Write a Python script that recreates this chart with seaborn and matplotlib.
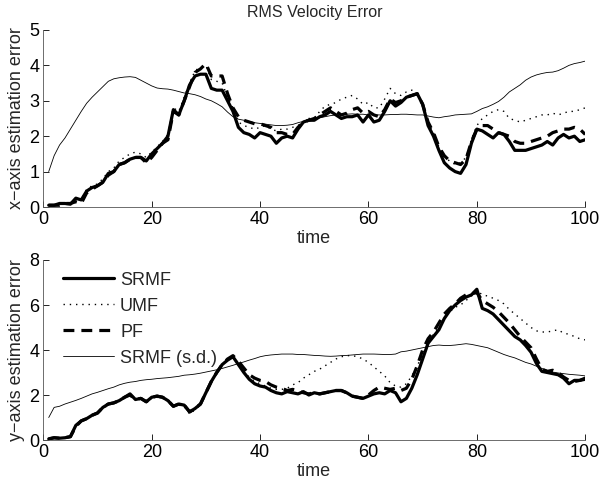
import pandas as pd
import matplotlib
matplotlib.use("Agg")
import matplotlib.pyplot as plt
import seaborn as sns

# time steps
time = list(range(1, 101))

# x-axis RMS velocity error
x_srmf = [0.05, 0.05, 0.1, 0.1, 0.08, 0.25, 0.2, 0.45, 0.55, 0.6,
          0.7, 0.95, 1.0, 1.2, 1.25, 1.35, 1.4, 1.4, 1.3, 1.5,
          1.65, 1.8, 2.0, 2.75, 2.6, 3.0, 3.45, 3.7, 3.75, 3.75,
          3.35, 3.3, 3.3, 3.0, 2.7, 2.25, 2.1, 2.05, 1.95, 2.1,
          2.05, 2.0, 1.8, 1.95, 2.0, 1.95, 2.2, 2.4, 2.45, 2.45,
          2.55, 2.6, 2.7, 2.6, 2.5, 2.55, 2.55, 2.6, 2.4, 2.6,
          2.4, 2.45, 2.7, 3.0, 2.85, 2.95, 3.1, 3.15, 3.2, 2.9,
          2.3, 2.0, 1.6, 1.25, 1.1, 1.0, 0.95, 1.2, 1.8, 2.2,
          2.15, 2.05, 1.95, 2.1, 2.05, 1.85, 1.6, 1.6, 1.6, 1.65,
          1.7, 1.75, 1.85, 1.75, 1.95, 2.05, 1.95, 2.0, 1.85, 1.9]
x_umf = [0.05, 0.05, 0.1, 0.1, 0.1, 0.2, 0.2, 0.5, 0.6, 0.65,
         0.8, 1.0, 1.1, 1.3, 1.4, 1.5, 1.55, 1.5, 1.4, 1.55,
         1.7, 1.85, 2.05, 2.8, 2.7, 3.1, 3.5, 3.85, 3.95, 4.0,
         3.6, 3.55, 3.5, 3.1, 2.8, 2.4, 2.3, 2.25, 2.2, 2.25,
         2.3, 2.2, 2.15, 2.2, 2.2, 2.25, 2.3, 2.4, 2.5, 2.5,
         2.7, 2.85, 2.9, 2.95, 3.05, 3.1, 3.15, 3.05, 2.9, 2.95,
         2.8, 2.8, 3.05, 3.35, 3.2, 3.15, 3.25, 3.3, 3.2, 2.9,
         2.4, 2.1, 1.7, 1.4, 1.3, 1.2, 1.25, 1.4, 1.9, 2.3,
         2.5, 2.6, 2.7, 2.75, 2.7, 2.5, 2.45, 2.4, 2.45, 2.5,
         2.55, 2.6, 2.6, 2.65, 2.6, 2.65, 2.7, 2.7, 2.75, 2.8]
x_pf = [0.05, 0.05, 0.05, 0.1, 0.1, 0.15, 0.1, 0.4, 0.5, 0.6,
        0.7, 0.9, 1.0, 1.2, 1.25, 1.35, 1.4, 1.4, 1.25, 1.4,
        1.6, 1.8, 1.9, 2.7, 2.6, 3.0, 3.4, 3.8, 3.9, 4.05,
        3.7, 3.7, 3.7, 3.2, 2.8, 2.55, 2.45, 2.4, 2.35, 2.35,
        2.3, 2.25, 2.1, 2.1, 2.05, 2.05, 2.25, 2.4, 2.45, 2.5,
        2.6, 2.7, 2.8, 2.7, 2.6, 2.65, 2.75, 2.8, 2.65, 2.7,
        2.6, 2.55, 2.75, 3.05, 2.95, 3.0, 3.1, 3.15, 3.2, 2.9,
        2.4, 2.1, 1.7, 1.45, 1.3, 1.25, 1.2, 1.35, 1.85, 2.2,
        2.3, 2.3, 2.2, 2.1, 2.05, 2.0, 1.85, 1.8, 1.8, 1.85,
        1.9, 1.95, 2.0, 2.1, 2.15, 2.2, 2.2, 2.25, 2.2, 2.05]
x_sd = [1.0, 1.45, 1.75, 1.95, 2.2, 2.45, 2.7, 2.93, 3.1, 3.25,
        3.4, 3.55, 3.62, 3.65, 3.67, 3.68, 3.66, 3.58, 3.5, 3.42,
        3.36, 3.34, 3.33, 3.3, 3.26, 3.22, 3.2, 3.17, 3.12, 3.05,
        3.0, 2.92, 2.83, 2.68, 2.55, 2.48, 2.45, 2.42, 2.38, 2.36,
        2.34, 2.32, 2.3, 2.3, 2.31, 2.33, 2.38, 2.42, 2.45, 2.48,
        2.52, 2.55, 2.58, 2.6, 2.6, 2.62, 2.63, 2.62, 2.62, 2.6,
        2.6, 2.6, 2.6, 2.61, 2.61, 2.62, 2.62, 2.61, 2.6, 2.6,
        2.57, 2.54, 2.52, 2.55, 2.57, 2.6, 2.61, 2.62, 2.63, 2.7,
        2.78, 2.83, 2.9, 2.98, 3.1, 3.25, 3.35, 3.45, 3.58, 3.67,
        3.73, 3.77, 3.8, 3.81, 3.85, 3.92, 4.0, 4.05, 4.08, 4.12]

# y-axis RMS velocity error
y_srmf = [0.05, 0.1, 0.08, 0.1, 0.15, 0.65, 0.85, 0.95, 1.1, 1.2,
          1.45, 1.6, 1.65, 1.75, 1.9, 2.05, 1.8, 1.85, 1.7, 1.9,
          1.95, 1.9, 1.75, 1.5, 1.6, 1.55, 1.25, 1.4, 1.6, 2.1,
          2.6, 3.0, 3.35, 3.55, 3.7, 3.35, 3.0, 2.7, 2.5, 2.4,
          2.35, 2.2, 2.1, 2.05, 2.15, 2.1, 2.05, 2.15, 2.0, 2.1,
          2.05, 2.1, 2.15, 2.2, 2.2, 2.1, 1.95, 1.9, 1.85, 1.95,
          2.05, 2.1, 2.05, 2.2, 2.1, 1.7, 1.85, 2.3, 2.9, 3.6,
          4.3, 4.6, 4.9, 5.4, 5.75, 6.0, 6.2, 6.35, 6.45, 6.7,
          5.85, 5.75, 5.6, 5.35, 5.1, 4.85, 4.6, 4.45, 4.2, 3.9,
          3.4, 3.05, 3.0, 2.95, 2.9, 2.75, 2.5, 2.65, 2.65, 2.75]
y_umf = [0.05, 0.1, 0.08, 0.1, 0.15, 0.6, 0.8, 0.95, 1.1, 1.2,
         1.4, 1.55, 1.65, 1.75, 1.85, 2.0, 1.85, 1.8, 1.75, 1.85,
         1.9, 1.85, 1.8, 1.55, 1.55, 1.5, 1.15, 1.35, 1.55, 2.05,
         2.55, 3.0, 3.35, 3.55, 3.7, 3.4, 3.05, 2.8, 2.6, 2.5,
         2.4, 2.3, 2.25, 2.25, 2.3, 2.45, 2.55, 2.75, 2.9, 3.05,
         3.15, 3.3, 3.45, 3.6, 3.7, 3.75, 3.75, 3.7, 3.6, 3.45,
         3.25, 3.05, 2.85, 2.55, 2.4, 2.35, 2.5, 2.85, 3.3, 3.8,
         4.3, 4.7, 5.0, 5.4, 5.7, 5.9, 6.0, 6.2, 6.4, 6.65,
         6.45, 6.4, 6.3, 6.2, 6.05, 5.8, 5.6, 5.4, 5.2, 5.0,
         4.85, 4.8, 4.8, 4.85, 4.9, 4.75, 4.7, 4.6, 4.5, 4.45]
y_pf = [0.05, 0.1, 0.08, 0.1, 0.15, 0.6, 0.85, 0.95, 1.1, 1.2,
        1.45, 1.6, 1.65, 1.75, 1.9, 2.0, 1.8, 1.85, 1.7, 1.9,
        1.95, 1.9, 1.75, 1.5, 1.6, 1.55, 1.25, 1.4, 1.6, 2.1,
        2.6, 3.0, 3.35, 3.6, 3.75, 3.5, 3.2, 2.9, 2.75, 2.65,
        2.6, 2.45, 2.35, 2.3, 2.2, 2.25, 2.2, 2.1, 2.05, 2.1,
        2.05, 2.1, 2.15, 2.2, 2.2, 2.1, 1.95, 1.9, 1.85, 2.0,
        2.2, 2.35, 2.3, 2.25, 2.3, 2.2, 2.3, 2.7, 3.3, 4.0,
        4.5, 4.8, 5.2, 5.6, 5.85, 6.05, 6.3, 6.45, 6.5, 6.55,
        6.2, 6.05, 5.9, 5.7, 5.45, 5.2, 4.9, 4.6, 4.35, 4.1,
        3.6, 3.15, 3.05, 3.1, 3.0, 2.8, 2.65, 2.6, 2.65, 2.7]
y_sd = [1.0, 1.45, 1.5, 1.6, 1.68, 1.76, 1.85, 1.95, 2.05, 2.12,
        2.2, 2.28, 2.35, 2.45, 2.52, 2.57, 2.6, 2.65, 2.68, 2.7,
        2.73, 2.75, 2.77, 2.8, 2.83, 2.88, 2.9, 2.93, 2.97, 3.02,
        3.07, 3.12, 3.18, 3.25, 3.32, 3.4, 3.47, 3.55, 3.62, 3.7,
        3.75, 3.78, 3.8, 3.82, 3.82, 3.82, 3.8, 3.8, 3.78, 3.76,
        3.75, 3.73, 3.72, 3.73, 3.75, 3.76, 3.78, 3.8, 3.82, 3.82,
        3.82, 3.81, 3.8, 3.8, 3.82, 3.92, 3.95, 4.0, 4.05, 4.1,
        4.15, 4.2, 4.22, 4.2, 4.2, 4.22, 4.25, 4.28, 4.25, 4.2,
        4.15, 4.1, 4.0, 3.9, 3.8, 3.72, 3.65, 3.55, 3.45, 3.38,
        3.28, 3.18, 3.1, 3.02, 2.98, 2.95, 2.92, 2.9, 2.88, 2.85]

labels = ["SRMF", "UMF", "PF", "SRMF (s.d.)"]
styles = {
    "SRMF": dict(lw=2.3, linestyle="-"),
    "UMF": dict(lw=1.0, linestyle=(0, (1, 3.5))),
    "PF": dict(lw=2.3, linestyle=(0, (3.4, 2.2))),
    "SRMF (s.d.)": dict(lw=0.6, linestyle="-"),
}

sns.set_style("ticks")
plt.rcParams["font.family"] = ["Liberation Sans", "DejaVu Sans"]

fig = plt.figure(figsize=(5.99, 4.83), dpi=100)
ax1 = fig.add_axes([0.0723, 0.5714, 0.9047, 0.3666])
ax2 = fig.add_axes([0.0723, 0.0890, 0.9047, 0.3727])

panels = [
    (ax1, [x_srmf, x_umf, x_pf, x_sd], "x\u2212axis estimation error", 5, 1),
    (ax2, [y_srmf, y_umf, y_pf, y_sd], "y\u2212axis estimation error", 8, 2),
]

for ax, series, ylab, ymax, ystep in panels:
    for name, vals in zip(labels, series):
        sns.lineplot(x=time, y=vals, ax=ax, color="black", label=name,
                     legend=False, **styles[name])
    ax.set_xlim(0, 100)
    ax.set_ylim(0, ymax)
    ax.set_xticks(range(0, 101, 20))
    ax.set_yticks(range(0, ymax + 1, ystep))
    ax.set_xlabel("time", fontsize=13, labelpad=1)
    ax.set_ylabel(ylab, fontsize=13, labelpad=3)
    ax.tick_params(direction="in", length=4, width=0.6, labelsize=13,
                   pad=3, colors="black")
    for side in ["top", "right"]:
        ax.spines[side].set_visible(False)
    for side in ["left", "bottom"]:
        ax.spines[side].set_linewidth(0.6)
        ax.spines[side].set_color("#555555")

ax1.set_title("RMS Velocity Error", fontsize=11.5, pad=9)

ax2.legend(loc="upper left", bbox_to_anchor=(0.015, 1.0), frameon=False,
           fontsize=13, handlelength=2.8, handletextpad=0.35,
           labelspacing=0.5, borderaxespad=0.45, borderpad=0.2)

fig.savefig("out.png", dpi=100)
